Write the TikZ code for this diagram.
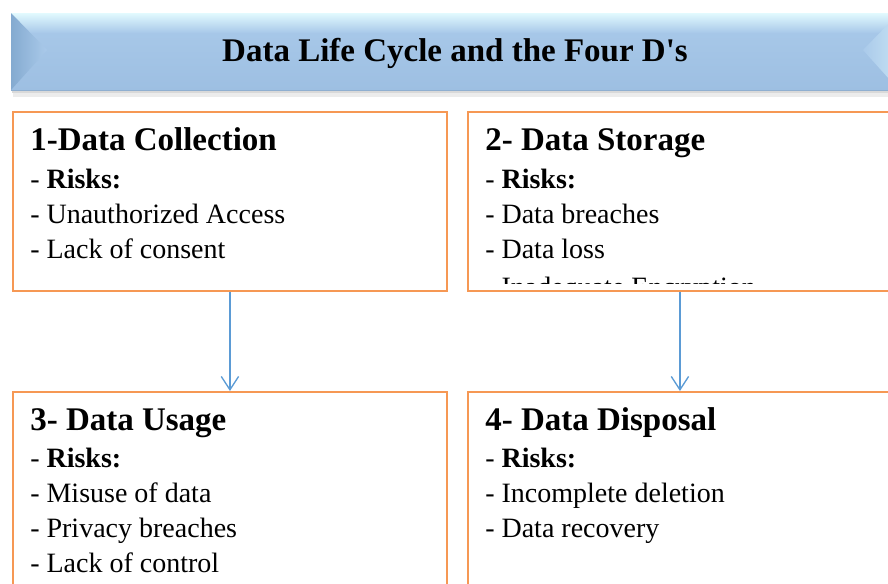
\documentclass[tikz,border=0pt]{standalone}
\usepackage{fontspec}
\setmainfont{Liberation Serif}
\usetikzlibrary{arrows.meta,positioning}

\definecolor{boxorange}{RGB}{246,152,84}
\definecolor{arrowblue}{RGB}{91,155,213}
\definecolor{bannertop}{RGB}{226,250,254}
\definecolor{bannermid}{RGB}{170,202,234}
\definecolor{bannerbot}{RGB}{157,191,226}
\definecolor{bevelleft}{RGB}{132,170,208}

\tikzset{
  riskbox/.style={draw=boxorange, line width=1.4pt, fill=white, anchor=north west, inner sep=0pt},
  stagehead/.style={anchor=base west, inner sep=0pt, font=\fontsize{24.75}{29}\selectfont\bfseries},
  riskitem/.style={anchor=base west, inner sep=0pt, font=\fontsize{21}{25}\selectfont},
  flow/.style={draw=arrowblue, line width=1pt, -{Straight Barb[length=10pt,width=13pt]}},
}

\begin{document}
\begin{tikzpicture}[x=0.75pt,y=-0.75pt]
  \useasboundingbox (0,0) rectangle (888,583);
  \clip (0,0) rectangle (888,583);
  % Title banner with shadow and bevels
  \fill[gray!15] (13,90) rectangle (902,97);
  \fill[gray!30] (12,90) rectangle (900,93);
  \shade[top color=bannermid, bottom color=bannerbot] (11,13) rectangle (899,90);
  \shade[top color=bannertop, bottom color=bannermid] (11,13) rectangle (899,32);
  \shade[left color=bevelleft, right color=bannermid] (11,13) -- (47,50) -- (11,90) -- cycle;
  \shade[left color=bannermid, right color=bannertop!50!bannermid] (899,13) -- (863,50) -- (899,90) -- cycle;
  \draw[bannerbot!80!black, opacity=0.4] (11,90) -- (899,90);
  \node[font=\fontsize{24.75}{29}\selectfont\bfseries, anchor=base] (title)
    at (455,61) {Data Life Cycle and the Four D\textquotesingle s};
  % The four stage boxes
  \node[riskbox, minimum width=325.5pt, minimum height=134.25pt] (collect) at (12,111) {};
  \node[riskbox, minimum width=318pt, minimum height=134.25pt] (store) at (467,111) {};
  \node[riskbox, minimum width=325.5pt, minimum height=157.5pt] (use) at (12,391) {};
  \node[riskbox, minimum width=318pt, minimum height=157.5pt] (dispose) at (467,391) {};
  % 1 - collection
  \node[stagehead] (collecthead) at (30,150) {1-Data Collection};
  \foreach \txt [count=\i] in {{- \textbf{Risks:}}, {- Unauthorized Access}, {- Lack of consent}}
    \node[riskitem] (collect-\i) at (30,{153+35*\i}) {\txt};
  % 2 - storage (last line cut off by the text frame)
  \node[stagehead] (storehead) at (485,150) {2- Data Storage};
  \begin{scope}
    \clip (store.north west) rectangle ([yshift=6.5pt]store.south east);
    \foreach \txt [count=\i] in {{- \textbf{Risks:}}, {- Data breaches}, {- Data loss}, {- Inadequate Encryption}}
      \node[riskitem] (store-\i) at (485,{153+35*\i+(\i==4)*3}) {\txt};
  \end{scope}
  % 3 - usage
  \node[stagehead] (usehead) at (30,430) {3- Data Usage};
  \foreach \txt [count=\i] in {{- \textbf{Risks:}}, {- Misuse of data}, {- Privacy breaches}, {- Lack of control}}
    \node[riskitem] (use-\i) at (30,{432+35*\i}) {\txt};
  % 4 - disposal
  \node[stagehead] (disposehead) at (485,430) {4- Data Disposal};
  \foreach \txt [count=\i] in {{- \textbf{Risks:}}, {- Incomplete deletion}, {- Data recovery}}
    \node[riskitem] (dispose-\i) at (485,{432+35*\i}) {\txt};
  % Flow arrows
  \draw[flow] (collect.south) -- (use.north);
  \draw[flow] (store.south) -- (dispose.north);
\end{tikzpicture}
\end{document}
